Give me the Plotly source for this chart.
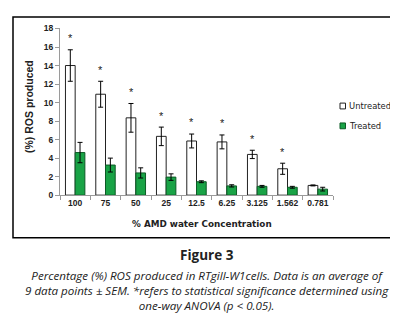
import plotly.graph_objects as go

categories = ["100", "75", "50", "25", "12.5", "6.25", "3.125", "1.562", "0.781"]
untreated = [14.0, 10.9, 8.35, 6.35, 5.85, 5.75, 4.4, 2.85, 1.05]
untreated_err = [1.7, 1.4, 1.55, 1.0, 0.75, 0.75, 0.45, 0.6, 0.05]
treated = [4.6, 3.25, 2.4, 1.95, 1.45, 1.0, 0.95, 0.85, 0.65]
treated_err = [1.1, 0.75, 0.55, 0.35, 0.1, 0.12, 0.1, 0.1, 0.2]
significant = [True, True, True, True, True, True, True, True, False]
y_ticks = [0, 2, 4, 6, 8, 10, 12, 14, 16, 18]
series_names = ["Untreated", "Treated"]

W, H = 398, 321
def px(x):
    return x / W
def py(y):
    return 1 - y / H

GREEN = "#19a346"
GREEN_EDGE = "#0d5a26"
chart_font = "Liberation Sans"
title_font = "DejaVu Sans"

fig = go.Figure()
fig.add_trace(go.Bar(
    name=series_names[0], x=categories, y=untreated,
    marker=dict(color="white", line=dict(color="#222222", width=1)),
    error_y=dict(type="data", array=untreated_err, color="black", thickness=1, width=2.5),
    showlegend=False,
))
fig.add_trace(go.Bar(
    name=series_names[1], x=categories, y=treated,
    marker=dict(color=GREEN, line=dict(color=GREEN_EDGE, width=1)),
    error_y=dict(type="data", array=treated_err, color="black", thickness=1, width=2.5),
    showlegend=False,
))

annotations = []
for i, (v, e, s) in enumerate(zip(untreated, untreated_err, significant)):
    if s:
        annotations.append(dict(x=i, y=v + e + 1.25, xref="x", yref="y", text="*",
                                showarrow=False, xshift=-4.8,
                                font=dict(size=11, color="#222222", family=chart_font)))

annotations.append(dict(x=px(21), y=py(97), xref="paper", yref="paper", xanchor="center",
                        yanchor="middle",
                        text="<b>(%) ROS produced</b>", textangle=-90, showarrow=False,
                        font=dict(size=10.5, color="#222222", family=chart_font)))
annotations.append(dict(x=px(194), y=py(218), xref="paper", yref="paper", xanchor="center",
                        yanchor="middle",
                        text="<b>% AMD water Concentration</b>", showarrow=False,
                        font=dict(size=8.8, color="#222222", family=title_font)))

# custom legend
shapes = []
legend_rows = [(96, "white", "#222222"), (116.5, GREEN, GREEN_EDGE)]
for (yc, fill, edge), name in zip(legend_rows, series_names):
    shapes.append(dict(type="rect", xref="paper", yref="paper",
                       x0=px(332), x1=px(337.5), y0=py(yc + 3), y1=py(yc - 3),
                       fillcolor=fill, line=dict(color=edge, width=1)))
    annotations.append(dict(x=px(339), y=py(yc), xref="paper", yref="paper",
                            xanchor="left", yanchor="middle", text=name, showarrow=False,
                            font=dict(size=8.4, color="#222222", family=title_font)))

annotations.append(dict(x=0.5, y=py(250), xref="paper", yref="paper",
                        xanchor="center", yanchor="middle",
                        text="<b>Figure 3</b>", showarrow=False,
                        font=dict(size=13.5, color="#222222", family="Open Sans")))
caption = [
    "Percentage (%) ROS produced in RTgill-W1cells. Data is an average of",
    "9 data points ± SEM. *refers to statistical significance determined using",
    "one-way ANOVA (p &lt; 0.05).",
]
annotations.append(dict(x=0.5, y=py(286), xref="paper", yref="paper",
                        xanchor="center", yanchor="middle",
                        text="<i>" + "<br>".join(caption) + "</i>", showarrow=False,
                        font=dict(size=11.6, color="#222222", family="Open Sans")))

shapes.append(dict(type="rect", xref="paper", yref="paper",
                   x0=px(5), x1=px(394), y0=py(232), y1=py(4),
                   line=dict(color="black", width=1.5)))

fig.update_layout(
    width=W, height=H,
    margin=dict(l=0, r=0, t=0, b=0),
    paper_bgcolor="white", plot_bgcolor="white",
    barmode="group", bargap=0.36, bargroupgap=0.0,
    showlegend=False,
    xaxis=dict(domain=[px(52), px(325)], type="category", range=[-0.5, 8.5],
               showline=True, linecolor="#9a9a9a", linewidth=1,
               ticks="outside", tickson="boundaries", ticklen=4, tickcolor="#9a9a9a",
               tickangle=0,
               tickfont=dict(size=8.5, color="#222222", family=chart_font, weight="bold"),
               showgrid=False),
    yaxis=dict(domain=[0.4143, 0.9502], range=[0, 18], tickvals=y_ticks,
               showline=True, linecolor="#9a9a9a", linewidth=1,
               ticks="outside", ticklen=4, tickcolor="#9a9a9a",
               tickfont=dict(size=8.5, color="#222222", family=chart_font, weight="bold"),
               showgrid=False, zeroline=False),
    annotations=annotations,
    shapes=shapes,
)

fig.write_html("out.html")
